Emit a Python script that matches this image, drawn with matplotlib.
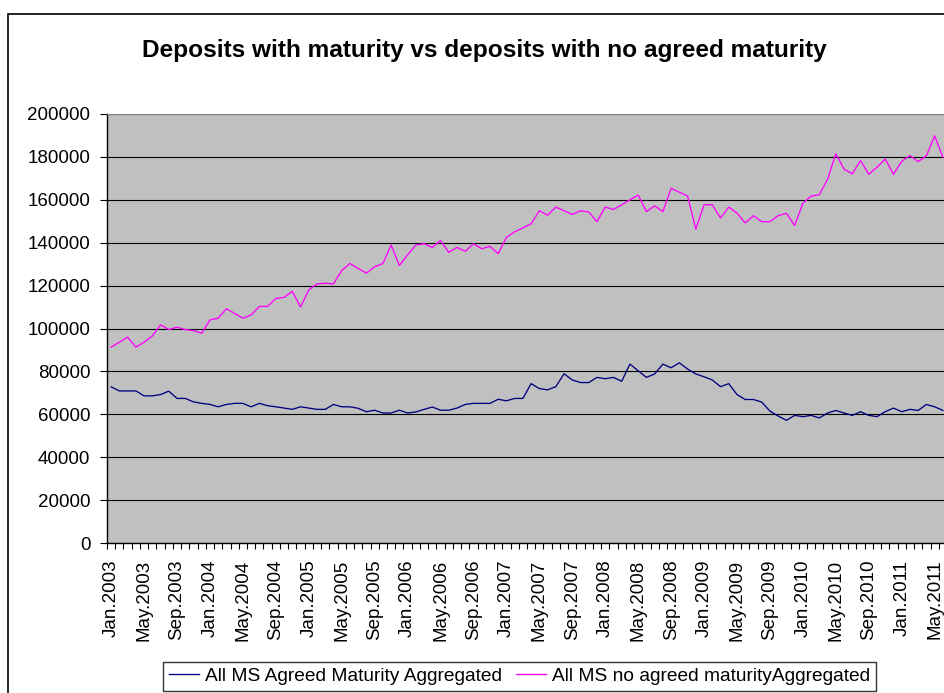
import matplotlib
matplotlib.use("Agg")
import matplotlib.pyplot as plt
import matplotlib.patches as patches
import numpy as np
import pandas as pd

plt.rcParams['font.family'] = ['Liberation Sans', 'DejaVu Sans']

# monthly categories Jan.2003 .. Jun.2011
months = pd.date_range('2003-01-01', periods=102, freq='MS')
month_labels = [f"{m.strftime('%b')}.{m.year}" for m in months]

agreed_maturity = [
    72800, 70900, 70900, 70900, 68600, 68600, 69200, 70800, 67400, 67400,
    65800, 65100, 64600, 63500, 64600, 65100, 65100, 63500, 65100, 64000,
    63500, 62900, 62300, 63500, 62900, 62300, 62300, 64600, 63500, 63500,
    62800, 61200, 61900, 60600, 60600, 61900, 60600, 61100, 62300, 63400,
    61900, 61900, 62900, 64600, 65100, 65100, 65100, 67000, 66300, 67400,
    67400, 74300, 72000, 71400, 72900, 78900, 76000, 74800, 74800, 77200,
    76600, 77200, 75400, 83400, 80300, 77200, 78800, 83400, 81700, 84000,
    81100, 78800, 77500, 76000, 72900, 74300, 69200, 66900, 66900, 65700,
    61500, 59200, 57200, 59500, 58900, 59500, 58300, 60600, 61800, 60600,
    59500, 61200, 59500, 58900, 61200, 62900, 61200, 62300, 61800, 64600,
    63500, 61800,
]

no_agreed_maturity = [
    91300, 93600, 96000, 91300, 93600, 96500, 101700, 99500, 100600, 99500,
    99000, 97800, 104000, 104800, 109200, 107000, 104800, 106300, 110300, 110300,
    114000, 114500, 117300, 110000, 118000, 120800, 121100, 120800, 127000, 130300,
    128000, 125800, 128800, 130300, 138900, 129400, 134300, 138900, 139500, 137800,
    141000, 135500, 137800, 136000, 139500, 137200, 138300, 134900, 142500, 145100,
    146900, 148800, 154900, 152800, 156600, 154900, 153200, 154900, 154300, 149800,
    156600, 155500, 157700, 160000, 162200, 154500, 157200, 154500, 165400, 163500,
    161800, 146300, 157700, 157700, 151500, 156600, 153800, 149200, 152600, 149800,
    149800, 152600, 153700, 148000, 158400, 161700, 162400, 169600, 181400, 174300,
    172100, 178300, 171900, 175200, 179000, 171900, 177900, 180600, 177800, 180500,
    189800, 179800,
]

series_names = ["All MS Agreed Maturity Aggregated", "All MS no agreed maturityAggregated"]

W, H = 944, 693
fig = plt.figure(figsize=(W / 100, H / 100), dpi=100)

# outer chart border (runs off the right/bottom edge like the original)
fig.patches.append(patches.Rectangle((8 / W, -0.05), 1.0, (H - 14) / H + 0.05,
                                     transform=fig.transFigure, fill=False,
                                     ec='black', lw=1.2))

ax = fig.add_axes([107 / W, (H - 543) / H, (947 - 107) / W, 429 / H])
ax.set_facecolor('#C0C0C0')

x = np.arange(len(months))
ax.plot(x, agreed_maturity, color='#000080', lw=0.95, label=series_names[0])
ax.plot(x, no_agreed_maturity, color='#FF00FF', lw=0.95, label=series_names[1])

ax.set_xlim(-0.5, len(months) - 0.5)
ax.set_ylim(0, 200000)
ax.set_yticks(np.arange(0, 200001, 20000))
ax.yaxis.grid(True, color='black', lw=0.8)
ax.set_axisbelow(True)

ax.set_xticks(x[::4])
ax.set_xticklabels(month_labels[::4], rotation=90)
ax.set_xticks(np.arange(-0.5, len(months), 1), minor=True)
ax.tick_params(axis='x', which='major', length=0, pad=12, labelsize=13.5)
ax.tick_params(axis='x', which='minor', length=4, width=0.8, direction='out')
ax.tick_params(axis='y', length=5, width=0.8, pad=7, labelsize=13.5)

for side in ['top', 'right']:
    ax.spines[side].set_color('#808080')
for side in ['left', 'bottom']:
    ax.spines[side].set_color('black')
    ax.spines[side].set_linewidth(1.0)

fig.text(484 / W, 1 - 51 / H, "Deposits with maturity vs deposits with no agreed maturity",
         ha='center', va='center', fontsize=17.6, fontweight='bold')

leg = fig.legend(loc='upper left', bbox_to_anchor=(163 / W, 1 - 662 / H), ncol=2,
                 fontsize=13.8, frameon=True, fancybox=False, edgecolor='black',
                 handlelength=1.6, handletextpad=0.3, columnspacing=0.7,
                 borderpad=0.3, borderaxespad=0)
leg.get_frame().set_linewidth(1.0)

fig.savefig("out.png", dpi=100)
